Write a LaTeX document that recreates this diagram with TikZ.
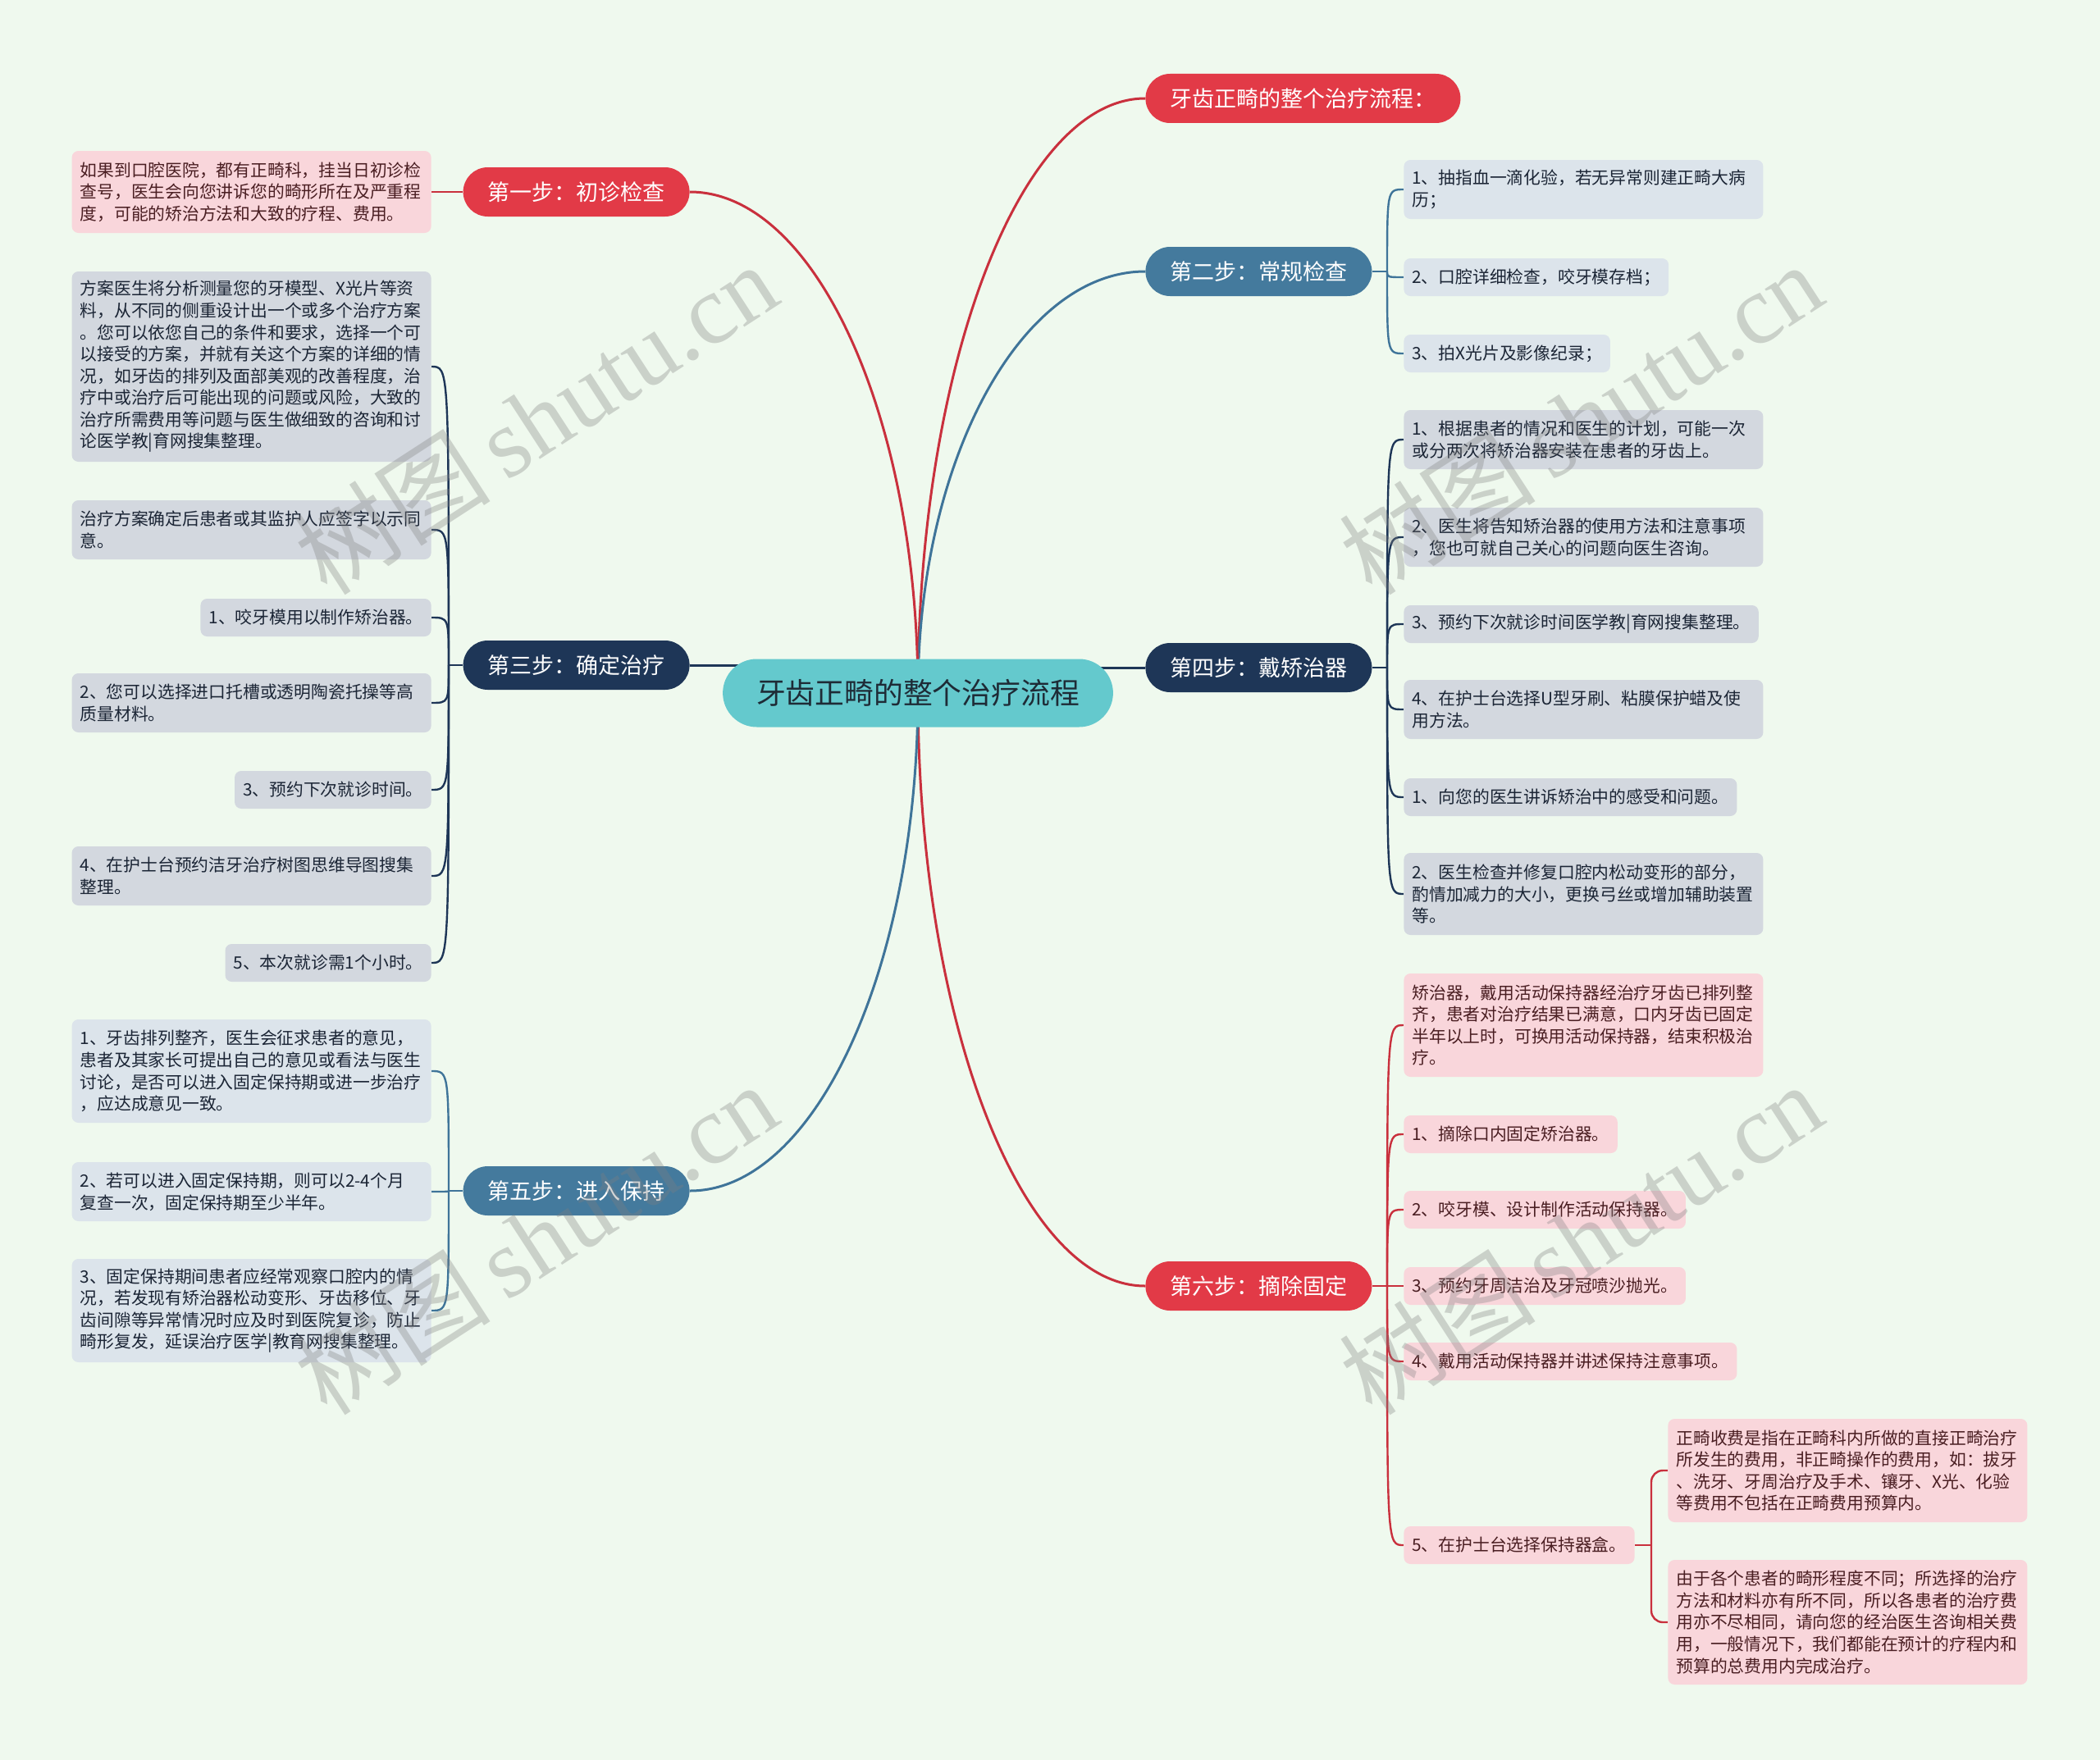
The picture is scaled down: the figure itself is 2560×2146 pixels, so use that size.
\documentclass[tikz,border=0pt]{standalone}
\usepackage{fontspec}
\setmainfont{Noto Sans CJK SC}
\newfontfamily\wmlatin{Liberation Serif}
\definecolor{bgc}{HTML}{EFF9EE}
\definecolor{rootc}{HTML}{64C9CD}
\definecolor{redc}{HTML}{E23A47}
\definecolor{redl}{HTML}{C9303D}
\definecolor{bluec}{HTML}{447A9D}
\definecolor{bluel}{HTML}{3F7499}
\definecolor{navyc}{HTML}{1E3657}
\definecolor{pinkc}{HTML}{F9D6DB}
\definecolor{grayc}{HTML}{D3D8DF}
\definecolor{lbluec}{HTML}{DCE4EB}
\definecolor{txtdark}{HTML}{1B2535}
\definecolor{txtred}{HTML}{4A1E22}
\definecolor{rtxt}{HTML}{1E2B36}
\pgfdeclarelayer{bglayer}
\pgfdeclarelayer{edges}
\pgfsetlayers{bglayer,edges,main}
\begin{document}
\begin{tikzpicture}[x=0.5pt,y=-0.5pt,
  rootbox/.style={rounded corners=20.75pt, fill=rootc, text=rtxt, font=\fontsize{17.9}{21}\selectfont, inner xsep=20.5pt, inner ysep=0pt, minimum height=41.5pt},
  branch/.style={rounded corners=15pt, text=white, font=\fontsize{13.5}{16}\selectfont, inner xsep=15pt, inner ysep=0pt, minimum height=30pt},
  leaf/.style={rounded corners=4pt, align=left, font=\fontsize{10.4}{13.3}\selectfont, inner xsep=5pt, inner ysep=2pt},
  pinkleaf/.style={leaf, fill=pinkc, text=txtred},
  grayleaf/.style={leaf, fill=grayc, text=txtdark},
  blueleaf/.style={leaf, fill=lbluec, text=txtdark},
  wide/.style={text width=209pt},
  n1/.style={minimum height=23pt},
  n2/.style={minimum height=36pt},
  n3/.style={minimum height=50pt},
  n4/.style={minimum height=63pt},
  n5/.style={minimum height=76pt},
  n8/.style={minimum height=116pt},
  mainedge/.style={line width=1.5pt},
  subedge/.style={line width=1.2pt},
  wm/.style={text=gray, text opacity=0.33, font=\fontsize{60}{60}\selectfont, rotate=33}
]
\begin{pgfonlayer}{bglayer}
\fill[bgc] (0,0) rectangle (2560,2146);
\end{pgfonlayer}
\useasboundingbox (0,0) rectangle (2560,2146);

% root and branches
\node[rootbox] (root) at (1119,845) {牙齿正畸的整个治疗流程};
\node[branch, fill=redc, anchor=west] (title) at (1396,120) {牙齿正畸的整个治疗流程：};
\node[branch, fill=redc, anchor=east] (s1) at (841,234) {第一步：初诊检查};
\node[branch, fill=bluec, anchor=west] (s2) at (1396,331) {第二步：常规检查};
\node[branch, fill=navyc, anchor=east] (s3) at (841,811) {第三步：确定治疗};
\node[branch, fill=navyc, anchor=west] (s4) at (1396,814) {第四步：戴矫治器};
\node[branch, fill=bluec, anchor=east] (s5) at (841,1452) {第五步：进入保持};
\node[branch, fill=redc, anchor=west] (s6) at (1396,1568) {第六步：摘除固定};

% step 1
\node[pinkleaf, wide, n3, anchor=east] (c1a) at (526,234) {如果到口腔医院，都有正畸科，挂当日初诊检\\查号，医生会向您讲诉您的畸形所在及严重程\\度，可能的矫治方法和大致的疗程、费用。};

% step 3
\node[grayleaf, wide, n8, anchor=east] (c3a) at (526,447) {方案医生将分析测量您的牙模型、X光片等资\\料，从不同的侧重设计出一个或多个治疗方案\\。您可以依您自己的条件和要求，选择一个可\\以接受的方案，并就有关这个方案的详细的情\\况，如牙齿的排列及面部美观的改善程度，治\\疗中或治疗后可能出现的问题或风险，大致的\\治疗所需费用等问题与医生做细致的咨询和讨\\论医学教|育网搜集整理。};
\node[grayleaf, wide, n2, anchor=east] (c3b) at (526,646) {治疗方案确定后患者或其监护人应签字以示同\\意。};
\node[grayleaf, n1, anchor=east] (c3c) at (526,753) {1、咬牙模用以制作矫治器。};
\node[grayleaf, wide, n2, anchor=east] (c3d) at (526,857) {2、您可以选择进口托槽或透明陶瓷托操等高\\质量材料。};
\node[grayleaf, n1, anchor=east] (c3e) at (526,963) {3、预约下次就诊时间。};
\node[grayleaf, wide, n2, anchor=east] (c3f) at (526,1068) {4、在护士台预约洁牙治疗树图思维导图搜集\\整理。};
\node[grayleaf, n1, anchor=east] (c3g) at (526,1174) {5、本次就诊需1个小时。};

% step 5
\node[blueleaf, wide, n4, anchor=east] (c5a) at (526,1306) {1、牙齿排列整齐，医生会征求患者的意见，\\患者及其家长可提出自己的意见或看法与医生\\讨论，是否可以进入固定保持期或进一步治疗\\，应达成意见一致。};
\node[blueleaf, wide, n2, anchor=east] (c5b) at (526,1453) {2、若可以进入固定保持期，则可以2-4个月\\复查一次，固定保持期至少半年。};
\node[blueleaf, wide, n4, anchor=east] (c5c) at (526,1598) {3、固定保持期间患者应经常观察口腔内的情\\况，若发现有矫治器松动变形、牙齿移位、牙\\齿间隙等异常情况时应及时到医院复诊，防止\\畸形复发，延误治疗医学|教育网搜集整理。};

% step 2
\node[blueleaf, wide, n2, anchor=west] (c2a) at (1711,231) {1、抽指血一滴化验，若无异常则建正畸大病\\历；};
\node[blueleaf, n1, anchor=west] (c2b) at (1711,338) {2、口腔详细检查，咬牙模存档；};
\node[blueleaf, n1, anchor=west] (c2c) at (1711,431) {3、拍X光片及影像纪录；};

% step 4
\node[grayleaf, wide, n2, anchor=west] (c4a) at (1711,536) {1、根据患者的情况和医生的计划，可能一次\\或分两次将矫治器安装在患者的牙齿上。};
\node[grayleaf, wide, n2, anchor=west] (c4b) at (1711,655) {2、医生将告知矫治器的使用方法和注意事项\\，您也可就自己关心的问题向医生咨询。};
\node[grayleaf, n1, anchor=west] (c4c) at (1711,761) {3、预约下次就诊时间医学教|育网搜集整理。};
\node[grayleaf, wide, n2, anchor=west] (c4d) at (1711,865) {4、在护士台选择U型牙刷、粘膜保护蜡及使\\用方法。};
\node[grayleaf, n1, anchor=west] (c4e) at (1711,972) {1、向您的医生讲诉矫治中的感受和问题。};
\node[grayleaf, wide, n3, anchor=west] (c4f) at (1711,1090) {2、医生检查并修复口腔内松动变形的部分，\\酌情加减力的大小，更换弓丝或增加辅助装置\\等。};

% step 6
\node[pinkleaf, wide, n4, anchor=west] (c6a) at (1711,1250) {矫治器，戴用活动保持器经治疗牙齿已排列整\\齐，患者对治疗结果已满意，口内牙齿已固定\\半年以上时，可换用活动保持器，结束积极治\\疗。};
\node[pinkleaf, n1, anchor=west] (c6b) at (1711,1383) {1、摘除口内固定矫治器。};
\node[pinkleaf, n1, anchor=west] (c6c) at (1711,1475) {2、咬牙模、设计制作活动保持器。};
\node[pinkleaf, n1, anchor=west] (c6d) at (1711,1568) {3、预约牙周洁治及牙冠喷沙抛光。};
\node[pinkleaf, n1, anchor=west] (c6e) at (1711,1660) {4、戴用活动保持器并讲述保持注意事项。};
\node[pinkleaf, n1, anchor=west] (c6f) at (1711,1884) {5、在护士台选择保持器盒。};
\node[pinkleaf, wide, n4, anchor=west] (c6g) at (2033,1793) {正畸收费是指在正畸科内所做的直接正畸治疗\\所发生的费用，非正畸操作的费用，如：拔牙\\、洗牙、牙周治疗及手术、镶牙、X光、化验\\等费用不包括在正畸费用预算内。};
\node[pinkleaf, wide, n5, anchor=west] (c6h) at (2033,1978) {由于各个患者的畸形程度不同；所选择的治疗\\方法和材料亦有所不同，所以各患者的治疗费\\用亦不尽相同，请向您的经治医生咨询相关费\\用，一般情况下，我们都能在预计的疗程内和\\预算的总费用内完成治疗。};

% junctions
\coordinate (j2) at (1691,331);
\coordinate (j3) at (547,811);
\coordinate (j4) at (1691,814);
\coordinate (j5) at (547,1452);
\coordinate (j6) at (1691,1568);
\coordinate (j6f) at (2013,1884);

\begin{pgfonlayer}{edges}
% main connectors
\draw[mainedge, redl] (root.center) .. controls +(0,-399) and +(-152,0) .. (title.west);
\draw[mainedge, bluel] (root.center) .. controls +(0,-283) and +(-152,0) .. (s2.west);
\draw[mainedge, redl] (root.center) .. controls +(0,398) and +(-152,0) .. (s6.west);
\draw[mainedge, redl] (root.center) .. controls +(0,-336) and +(153,0) .. (s1.east);
\draw[mainedge, bluel] (root.center) .. controls +(0,334) and +(153,0) .. (s5.east);
\draw[mainedge, navyc] (s3.east) -- (s3.east -| root.center);
\draw[mainedge, navyc] (s4.west) -- (s4.west -| root.center);

% step 1
\draw[subedge, redl] (s1.west) -- (c1a.east);
% step 2
\draw[subedge, bluel] (s2.east) -- (j2);
\foreach \c in {c2a,c2b,c2c}
  \draw[subedge, bluel] (j2) .. controls (j2 |- \c.west) .. (\c.west);
% step 3
\draw[subedge, navyc] (s3.west) -- (j3);
\foreach \c in {c3a,c3b,c3c,c3d,c3e,c3f,c3g}
  \draw[subedge, navyc] (j3) .. controls (j3 |- \c.east) .. (\c.east);
% step 4
\draw[subedge, navyc] (s4.east) -- (j4);
\foreach \c in {c4a,c4b,c4c,c4d,c4e,c4f}
  \draw[subedge, navyc] (j4) .. controls (j4 |- \c.west) .. (\c.west);
% step 5
\draw[subedge, bluel] (s5.west) -- (j5);
\foreach \c in {c5a,c5b,c5c}
  \draw[subedge, bluel] (j5) .. controls (j5 |- \c.east) .. (\c.east);
% step 6
\draw[subedge, redl] (s6.east) -- (j6);
\foreach \c in {c6a,c6b,c6c,c6d,c6e,c6f}
  \draw[subedge, redl] (j6) .. controls (j6 |- \c.west) .. (\c.west);
\draw[subedge, redl] (c6f.east) -- (j6f);
\draw[subedge, redl, rounded corners=7pt] (j6f) |- (c6g.west);
\draw[subedge, redl, rounded corners=7pt] (j6f) |- (c6h.west);
\end{pgfonlayer}

% watermarks
\node[wm] (wm1) at (653,510) {树图\,{\wmlatin shutu.cn}};
\node[wm] (wm2) at (1927,510) {树图\,{\wmlatin shutu.cn}};
\node[wm] (wm3) at (653,1510) {树图\,{\wmlatin shutu.cn}};
\node[wm] (wm4) at (1927,1510) {树图\,{\wmlatin shutu.cn}};
\end{tikzpicture}
\end{document}
